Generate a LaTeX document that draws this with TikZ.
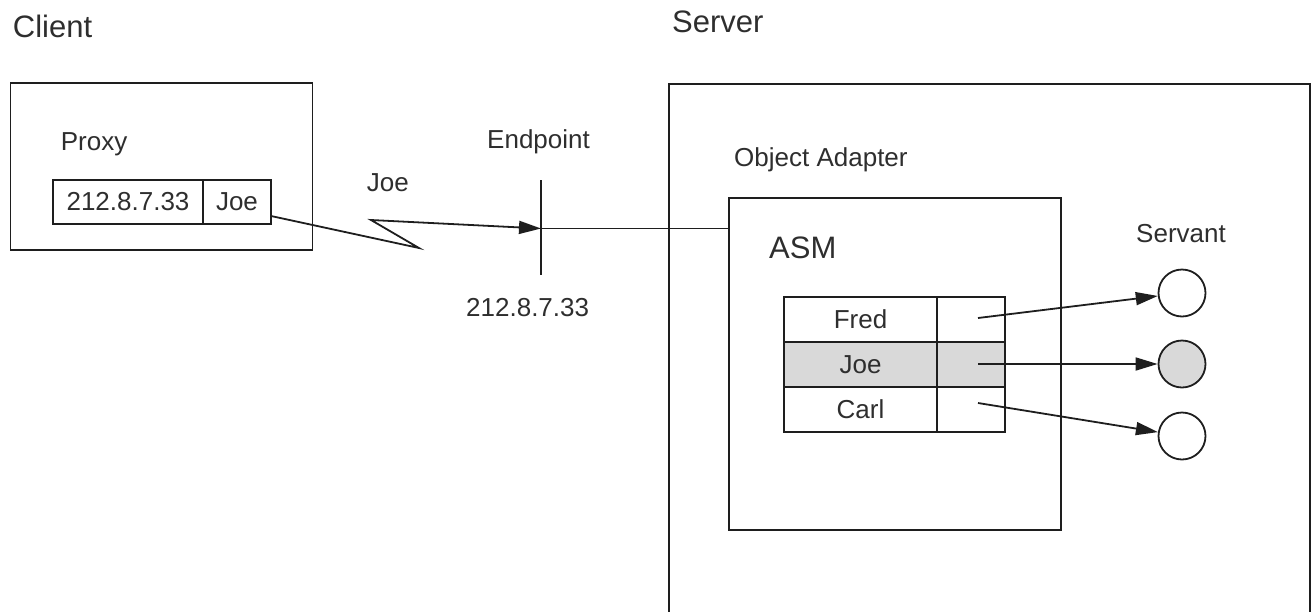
\documentclass[tikz,border=0pt]{standalone}
\usepackage{fontspec}
\setmainfont{Liberation Sans}
\usetikzlibrary{arrows.meta}
\definecolor{ink}{HTML}{1E1E1E}
\definecolor{txt}{HTML}{2E2E2E}
\definecolor{hl}{HTML}{D9D9D9}
\begin{document}
\begin{tikzpicture}[x=1pt,y=-1pt,
  ln/.style={draw=ink, line width=1.8pt},
  lbl/.style={inner sep=0pt, anchor=base west, text=txt, font=\fontsize{26}{31}\selectfont},
  big/.style={lbl, font=\fontsize{31}{36}\selectfont},
  cell/.style={ln, inner sep=0pt, minimum height=44pt, text=txt, font=\fontsize{26}{31}\selectfont},
  frame/.style={ln, inner sep=0pt},
  servant/.style={circle, ln, minimum size=47pt, inner sep=0pt},
  tip/.style={-{Triangle[length=22pt,width=13pt]}}
]
\useasboundingbox (0,0) rectangle (1312,611);
\begin{scope}
\clip (0,0) rectangle (1312,611);
% titles
\node[big] (clientlbl) at (12.7,37.3) {Client};
\node[big] (serverlbl) at (672,32.7) {Server};
% client side
\node[frame, minimum width=302pt, minimum height=167pt] (client) at (161.5,166.5) {};
\node[lbl] (proxylbl) at (60.7,150.7) {Proxy};
\node[cell, minimum width=150pt] (ip) at (128,202) {212.8.7.33};
\node[cell, minimum width=68pt] (jc) at (237,202) {Joe};
% message
\node[lbl] (msg) at (366.7,191) {Joe};
\coordinate (z0) at (271,216);
\coordinate (ep) at (541,228.5);
\coordinate (eptop) at (541,180);
\coordinate (epbot) at (541,275);
\draw[ln] (eptop) -- (epbot);
\draw[ln,tip] (z0) -- (419,248) -- (371,220) -- (ep);
\node[lbl] (eplbl) at (487,148) {Endpoint};
\node[lbl] (addr) at (466,316.7) {212.8.7.33};
% server
\draw[ln] (669,620) -- (669,84) -- (1310,84) -- (1310,620);
\node[lbl] (oalbl) at (734,166.7) {Object Adapter};
\node[frame, minimum width=332pt, minimum height=332pt] (asm) at (895,364) {};
\draw[ln] (ep) -- (ep -| asm.west);
\node[big] (asmlbl) at (769,258) {ASM};
% ASM table
\node[cell, minimum width=153pt, minimum height=45pt] (fred) at (860.5,319.5) {Fred};
\node[cell, minimum width=68pt, minimum height=45pt] (fredp) at (971,319.5) {};
\node[cell, fill=hl, minimum width=153pt, minimum height=45pt] (joe) at (860.5,364.5) {Joe};
\node[cell, fill=hl, minimum width=68pt, minimum height=45pt] (joep) at (971,364.5) {};
\node[cell, minimum width=153pt, minimum height=45pt] (carl) at (860.5,409.5) {Carl};
\node[cell, minimum width=68pt, minimum height=45pt] (carlp) at (971,409.5) {};
% servants
\node[lbl] (servlbl) at (1136,242.7) {Servant};
\node[servant] (s1) at (1182,293) {};
\node[servant, fill=hl] (s2) at (1182,364) {};
\node[servant] (s3) at (1182,436) {};
\coordinate (a1) at (978,318);
\coordinate (a2) at (978,364);
\coordinate (a3) at (978,403);
\draw[ln,tip] (a1) -- (s1);
\draw[ln,tip] (a2) -- (s2);
\draw[ln,tip] (a3) -- (s3);
\end{scope}
\end{tikzpicture}
\end{document}
